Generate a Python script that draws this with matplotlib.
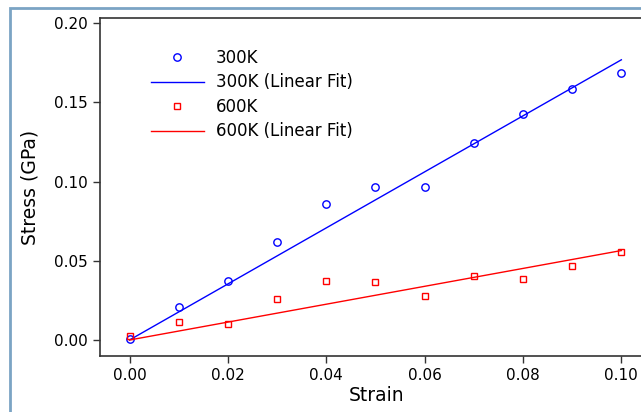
import matplotlib
matplotlib.use("Agg")
import matplotlib.pyplot as plt
import numpy as np
from matplotlib.patches import Rectangle

# data
strain = [0.00, 0.01, 0.02, 0.03, 0.04, 0.05, 0.06, 0.07, 0.08, 0.09, 0.10]
stress_300k = [0.0005, 0.0208, 0.0372, 0.0618, 0.0858, 0.0966, 0.0966,
               0.1243, 0.1426, 0.1586, 0.1683]
stress_600k = [0.0025, 0.0112, 0.0101, 0.0257, 0.0372, 0.0368, 0.0276,
               0.0402, 0.0385, 0.0469, 0.0555]
x_ticks = [0.00, 0.02, 0.04, 0.06, 0.08, 0.10]
y_ticks = [0.00, 0.05, 0.10, 0.15, 0.20]


def fit_origin(x, y):
    """Least squares slope of a line through the origin"""
    x = np.asarray(x)
    y = np.asarray(y)
    return np.sum(x * y) / np.sum(x * x)


plt.rcParams["font.family"] = ["DejaVu Sans"]

fig = plt.figure(figsize=(6.41, 4.12), dpi=100)
ax = fig.add_axes([100 / 641, 56 / 412, 1.02 - 100 / 641, 338 / 412])

# outer frame, right and bottom edges fall off the image
fig.patches.append(Rectangle((10 / 641, -0.1), 1.2, (412 - 8) / 412 + 0.1,
                             transform=fig.transFigure, fill=False,
                             edgecolor="#7ba4c4", linewidth=2.0, zorder=0))

x = np.array(strain)
k300 = fit_origin(strain, stress_300k)
k600 = fit_origin(strain, stress_600k)

ax.plot(strain, stress_300k, "o", mfc="none", mec="blue", ms=5.3, mew=1.0,
        label="300K")
ax.plot(x, k300 * x, "-", color="blue", lw=1.0, label="300K (Linear Fit)")
ax.plot(strain, stress_600k, "s", mfc="none", mec="red", ms=4.8, mew=1.0,
        label="600K")
ax.plot(x, k600 * x, "-", color="red", lw=1.0, label="600K (Linear Fit)")

ax.set_xlim(-0.006, 0.1066)
ax.set_ylim(-0.0101, 0.2032)
ax.set_xticks(x_ticks)
ax.set_yticks(y_ticks)
ax.xaxis.set_major_formatter(plt.FormatStrFormatter("%.2f"))
ax.yaxis.set_major_formatter(plt.FormatStrFormatter("%.2f"))
ax.tick_params(labelsize=11, length=5, width=1, color="#333333")
for s in ax.spines.values():
    s.set_color("#333333")
    s.set_linewidth(1.2)

ax.set_xlabel("Strain", fontsize=13.5, labelpad=2)
ax.set_ylabel("Stress (GPa)", fontsize=13.5, labelpad=11)

ax.legend(loc="upper left", frameon=False, fontsize=12,
          bbox_to_anchor=(0.065, 0.953), handlelength=3.17,
          handletextpad=0.72, labelspacing=0.39)

fig.savefig("out.png", dpi=100)
